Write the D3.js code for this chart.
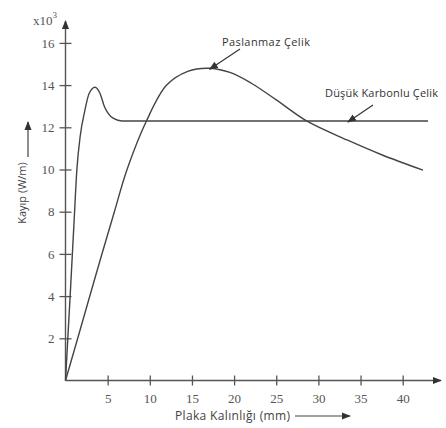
<!DOCTYPE html>
<html>
<head>
<meta charset="utf-8">
<script src="https://cdn.jsdelivr.net/npm/d3@7"></script>
<style>
  body { margin: 0; background: #fff; }
  svg { display: block; }
</style>
</head>
<body>
<div class="canvas"></div>
<script>
// data (thickness mm, loss x10^3 W/m)
const xTicks = [5, 10, 15, 20, 25, 30, 35, 40];
const yTicks = [2, 4, 6, 8, 10, 12, 14, 16];

const lowCarbonX = [0, 0.55, 1.0, 1.35, 1.75, 2.3, 2.8, 3.5, 4.1, 4.6, 5.0, 5.7, 6.7, 10, 20, 30, 43];
const lowCarbonY = [0, 4, 7.4, 10, 11.6, 12.8, 13.6, 13.9, 13.6, 13.0, 12.7, 12.42, 12.3, 12.3, 12.3, 12.3, 12.3];

const stainlessX = [0, 1.45, 3.6, 5.8, 7.3, 9.6, 12, 14.5, 17, 19.5, 22, 25, 28.6, 33.4, 37.5, 42.4];
const stainlessY = [0, 2, 5, 8, 10, 12.3, 14.0, 14.65, 14.8, 14.6, 14.1, 13.3, 12.3, 11.4, 10.7, 9.97];

const labels = {
  y: 'Kayıp (W/m)',
  x: 'Plaka Kalınlığı (mm)',
  stainless: 'Paslanmaz Çelik',
  lowCarbon: 'Düşük Karbonlu Çelik'
};

// 1. dimensions
const width = 446, height = 428;
const x0 = 65.5, y0 = 380.5;
const ink = '#555';

const svg = d3.select('.canvas')
  .append('svg')
  .attr('width', width)
  .attr('height', height);

const defs = svg.append('defs');
defs.append('marker')
  .attr('id', 'head')
  .attr('viewBox', '0 0 10 10')
  .attr('refX', 9).attr('refY', 5)
  .attr('markerWidth', 9).attr('markerHeight', 9)
  .attr('markerUnits', 'userSpaceOnUse')
  .attr('orient', 'auto')
  .append('path')
  .attr('d', 'M0,1 L10,5 L0,9 Z')
  .attr('fill', '#333');

// 2. scales
const xScale = d3.scaleLinear().domain([0, 43]).range([x0, x0 + 43 * 8.43]);
const yScale = d3.scaleLinear().domain([0, 16]).range([y0, y0 - 16 * 21.1]);

// 3. axes (ticks cross the axis line)
const xAxisGroup = svg.append('g')
  .attr('transform', `translate(0, ${y0})`)
  .call(d3.axisBottom(xScale).tickValues(xTicks).tickSize(5).tickSizeOuter(0));
xAxisGroup.select('.domain').remove();
xAxisGroup.selectAll('line').attr('y1', -5).attr('y2', 5).attr('stroke', ink).attr('stroke-width', 1.3);
xAxisGroup.selectAll('text')
  .attr('y', 22)
  .attr('dy', 0)
  .attr('fill', ink)
  .style('font-family', '"Liberation Serif", serif')
  .style('font-size', '13px');

const yAxisGroup = svg.append('g')
  .attr('transform', `translate(${x0}, 0)`)
  .call(d3.axisLeft(yScale).tickValues(yTicks).tickSize(6).tickSizeOuter(0));
yAxisGroup.select('.domain').remove();
yAxisGroup.selectAll('line').attr('x1', -6).attr('x2', 6).attr('stroke', ink).attr('stroke-width', 1.3);
yAxisGroup.selectAll('text')
  .attr('x', -11)
  .attr('fill', ink)
  .style('font-family', '"Liberation Serif", serif')
  .style('font-size', '13px');

// axis lines with arrow heads
svg.append('line')
  .attr('x1', x0).attr('y1', y0).attr('x2', 441).attr('y2', y0)
  .attr('stroke', ink).attr('stroke-width', 1.4)
  .attr('marker-end', 'url(#head)');
svg.append('line')
  .attr('x1', x0).attr('y1', y0).attr('x2', x0).attr('y2', 21)
  .attr('stroke', ink).attr('stroke-width', 1.4)
  .attr('marker-end', 'url(#head)');

// x10^3
const mult = svg.append('text')
  .attr('x', 33).attr('y', 25)
  .attr('fill', ink)
  .style('font-family', '"Liberation Serif", serif')
  .style('font-size', '13px');
mult.append('tspan').text('x10');
mult.append('tspan').attr('dy', -7).style('font-size', '9px').text('3');

// axis titles
svg.append('text')
  .attr('transform', 'translate(26, 193) rotate(-90)')
  .attr('text-anchor', 'middle')
  .attr('fill', '#444')
  .style('font-family', '"Open Sans", sans-serif')
  .style('font-size', '11px')
  .text(labels.y);
svg.append('line')
  .attr('x1', 28).attr('y1', 157).attr('x2', 28).attr('y2', 122)
  .attr('stroke', '#444').attr('stroke-width', 1.2)
  .attr('marker-end', 'url(#head)');

svg.append('text')
  .attr('x', 175).attr('y', 420)
  .attr('textLength', 115)
  .attr('fill', '#444')
  .style('font-family', '"Open Sans", sans-serif')
  .style('font-size', '12px')
  .text(labels.x);
svg.append('line')
  .attr('x1', 295).attr('y1', 416).attr('x2', 350).attr('y2', 416)
  .attr('stroke', '#444').attr('stroke-width', 1.2)
  .attr('marker-end', 'url(#head)');

// 4. curves
const lowCarbon = lowCarbonX.map((d, i) => ({x: d, y: lowCarbonY[i]}));
const stainless = stainlessX.map((d, i) => ({x: d, y: stainlessY[i]}));

const line = d3.line()
  .x(d => xScale(d.x))
  .y(d => yScale(d.y));

svg.append('path')
  .datum(lowCarbon)
  .attr('d', line.curve(d3.curveMonotoneX))
  .attr('fill', 'none')
  .attr('stroke', '#444')
  .attr('stroke-width', 1.4);

svg.append('path')
  .datum(stainless)
  .attr('d', line.curve(d3.curveCatmullRom.alpha(0.5)))
  .attr('fill', 'none')
  .attr('stroke', '#444')
  .attr('stroke-width', 1.4);

// 5. annotations
const note = (text, tx, ty, len, ax1, ay1, ax2, ay2) => {
  svg.append('text')
    .attr('x', tx).attr('y', ty)
    .attr('textLength', len)
    .attr('fill', '#333')
    .style('font-family', '"Open Sans", sans-serif')
    .style('font-size', '11px')
    .text(text);
  svg.append('line')
    .attr('x1', ax1).attr('y1', ay1).attr('x2', ax2).attr('y2', ay2)
    .attr('stroke', '#333').attr('stroke-width', 1.2)
    .attr('marker-end', 'url(#head)');
};

note(labels.stainless, 222, 46, 88, 240, 49, xScale(17.1), yScale(14.8) + 1);
note(labels.lowCarbon, 325, 97, 113, 373, 105, xScale(33.5), yScale(12.3) + 1);
</script>
</body>
</html>
